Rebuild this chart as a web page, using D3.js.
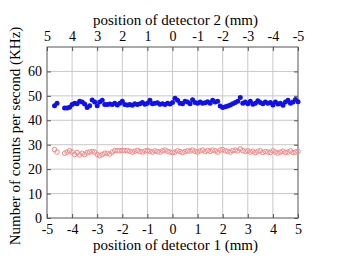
<!DOCTYPE html>
<html>
<head>
<meta charset="utf-8">
<script src="https://cdn.jsdelivr.net/npm/d3@7"></script>
<style>
  body { margin: 0; background: #fff; }
</style>
</head>
<body>
<div id="chart"></div>
<script>
// data (position in mm, counts in KHz)
let blueX = [-4.7,-4.6,-4.3,-4.2,-4.1,-4.0,-3.9,-3.8,-3.7,-3.6,-3.5,-3.4,-3.3,-3.2,-3.1,-3.0,-2.9,-2.8,-2.7,-2.6,
  -2.5,-2.4,-2.3,-2.2,-2.1,-2.0,-1.9,-1.8,-1.7,-1.6,-1.5,-1.4,-1.3,-1.2,-1.1,-1.0,-0.9,-0.8,-0.7,-0.6,
  -0.5,-0.4,-0.3,-0.2,-0.1,0.0,0.1,0.2,0.3,0.4,0.5,0.6,0.7,0.8,0.9,1.0,1.1,1.2,1.3,1.4,
  1.5,1.6,1.7,1.8,1.9,2.0,2.1,2.2,2.3,2.4,2.5,2.6,2.7,2.8,2.9,3.0,3.1,3.2,3.3,3.4,
  3.5,3.6,3.7,3.8,3.9,4.0,4.1,4.2,4.3,4.4,4.5,4.6,4.7,4.8,4.9,5.0]
let blueY = [46,47,45,45,45.3,46.5,47,46.8,47.8,47.5,46.7,45.2,46,48.3,47.5,46,47.5,48.2,46.5,46.5,
  46.7,46.5,47,46.3,47,47.8,46.5,46.3,46.5,46.2,46.8,46.5,46.8,47.3,46.6,47,48.2,46.8,47,47.2,
  46.6,46.8,46.5,47,46.7,47.3,49,48.2,47,46.8,47.8,47.5,46.8,48.4,47.3,47,47.5,47,47.2,47.6,
  47,48.2,47.5,47.8,45.8,45.2,45.5,45.8,46.3,46.8,47.3,47.8,49.3,47,47.5,46.8,47.8,46.6,47,48,
  47.3,46.8,47.5,47,47.3,46.3,47.5,46.7,47,46.2,47.5,48.2,47,47.5,48.5,47.6]

let redX = [-4.7,-4.6,-4.3,-4.2,-4.1,-4.0,-3.9,-3.8,-3.7,-3.6,-3.5,-3.4,-3.3,-3.2,-3.1,-3.0,-2.9,-2.8,-2.7,-2.6,
  -2.5,-2.4,-2.3,-2.2,-2.1,-2.0,-1.9,-1.8,-1.7,-1.6,-1.5,-1.4,-1.3,-1.2,-1.1,-1.0,-0.9,-0.8,-0.7,-0.6,
  -0.5,-0.4,-0.3,-0.2,-0.1,0.0,0.1,0.2,0.3,0.4,0.5,0.6,0.7,0.8,0.9,1.0,1.1,1.2,1.3,1.4,
  1.5,1.6,1.7,1.8,1.9,2.0,2.1,2.2,2.3,2.4,2.5,2.6,2.7,2.8,2.9,3.0,3.1,3.2,3.3,3.4,
  3.5,3.6,3.7,3.8,3.9,4.0,4.1,4.2,4.3,4.4,4.5,4.6,4.7,4.8,4.9,5.0]
let redY = [28,27,26.5,27,27.5,27,26,26.8,25.8,26.5,26,26.8,27,27.2,27,26,25.5,26,26.5,26.5,
  26.2,27,27.6,27.6,27.6,27.6,27.6,27.6,27.3,27,27.3,27.7,27.2,27,27.4,27.6,27.3,27,27.5,27.2,
  27,27.5,27.8,27.3,27,26.8,27,27.5,27.2,26.8,27.2,27.5,27.4,27.8,27.3,27,27.5,27.8,27.2,27.6,
  27.3,27.8,27.5,27,27.8,28,27.5,27.3,27,27.6,27.8,27.5,28.3,27.6,27.2,27.5,27,27.3,26.8,27.3,
  27.5,26.8,27.2,27,26.8,27.5,27,26.6,27,27.3,26.8,27,27.5,26.8,27,27.3]

let xTicks = [-5,-4,-3,-2,-1,0,1,2,3,4,5]
let yTicks = [0,10,20,30,40,50,60]

let width = 346
let height = 267
let margin = {left: 47, right: 48, top: 47, bottom: 49}
let serif = "'Liberation Serif', 'Times New Roman', 'DejaVu Serif', serif"

let svg = d3.select("#chart")
  .append("svg")
  .attr("width", width)
  .attr("height", height)

let xScale = d3.scaleLinear()
               .domain([-5, 5])
               .range([margin.left, width - margin.right])

// top axis runs the other way (detector 2)
let x2Scale = d3.scaleLinear()
                .domain([5, -5])
                .range([margin.left, width - margin.right])

let yScale = d3.scaleLinear()
               .domain([0, 70])
               .range([height - margin.bottom, margin.top])

let plotW = width - margin.left - margin.right
let plotH = height - margin.top - margin.bottom

// grid
svg.append("g")
   .selectAll("line")
   .data(xTicks.slice(1, -1))
   .enter()
   .append("line")
   .attr("x1", d => xScale(d)).attr("x2", d => xScale(d))
   .attr("y1", margin.top).attr("y2", height - margin.bottom)
   .attr("stroke", "#c8c8c8")
   .attr("stroke-width", 1)

svg.append("g")
   .selectAll("line")
   .data(yTicks.slice(1))
   .enter()
   .append("line")
   .attr("x1", margin.left).attr("x2", width - margin.right)
   .attr("y1", d => yScale(d)).attr("y2", d => yScale(d))
   .attr("stroke", "#c8c8c8")
   .attr("stroke-width", 1)

// axes
function styleAxis(g) {
  g.select(".domain").remove()
  g.selectAll(".tick line").attr("stroke", "#555")
  g.selectAll("text")
   .attr("fill", "#000")
   .style("font-family", serif)
   .style("font-size", "14px")
}

let fmt = d => d < 0 ? "-" + Math.abs(d) : d

svg.append("g")
   .attr("transform", `translate(0,${height - margin.bottom})`)
   .call(d3.axisBottom(xScale).tickValues(xTicks).tickSize(-4).tickPadding(6).tickFormat(fmt))
   .call(styleAxis)

svg.append("g")
   .attr("transform", `translate(0,${margin.top})`)
   .call(d3.axisTop(x2Scale).tickValues(xTicks).tickSize(-4).tickPadding(6).tickFormat(fmt))
   .call(styleAxis)

svg.append("g")
   .attr("transform", `translate(${margin.left},0)`)
   .call(d3.axisLeft(yScale).tickValues(yTicks).tickSize(-4).tickPadding(5))
   .call(styleAxis)

svg.append("g")
   .attr("transform", `translate(${width - margin.right},0)`)
   .call(d3.axisRight(yScale).tickValues(yTicks).tickSize(-4).tickFormat(""))
   .call(styleAxis)

// frame
svg.append("rect")
   .attr("x", margin.left).attr("y", margin.top)
   .attr("width", plotW).attr("height", plotH)
   .attr("fill", "none")
   .attr("stroke", "#555")
   .attr("stroke-width", 1)

// red open circles
svg.append("g")
   .selectAll("circle")
   .data(redX)
   .enter()
   .append("circle")
   .attr("cx", d => xScale(d))
   .attr("cy", (d, i) => yScale(redY[i]))
   .attr("r", 2.3)
   .attr("fill", "none")
   .attr("stroke", "#f28a8a")
   .attr("stroke-width", 1)

// blue filled circles
svg.append("g")
   .selectAll("circle")
   .data(blueX)
   .enter()
   .append("circle")
   .attr("cx", d => xScale(d))
   .attr("cy", (d, i) => yScale(blueY[i]))
   .attr("r", 2.5)
   .attr("fill", "#1010ee")

// titles
let titles = svg.append("g")
   .style("font-family", serif)
   .style("font-size", "15px")

let midX = (margin.left + width - margin.right) / 2 + 3

titles.append("text")
   .attr("x", midX)
   .attr("y", 250)
   .attr("text-anchor", "middle")
   .text("position of detector 1 (mm)")

titles.append("text")
   .attr("x", midX)
   .attr("y", 25)
   .attr("text-anchor", "middle")
   .text("position of detector 2 (mm)")

titles.append("text")
   .attr("transform", `translate(20,136) rotate(-90)`)
   .attr("text-anchor", "middle")
   .text("Number of counts per second (KHz)")
</script>
</body>
</html>
